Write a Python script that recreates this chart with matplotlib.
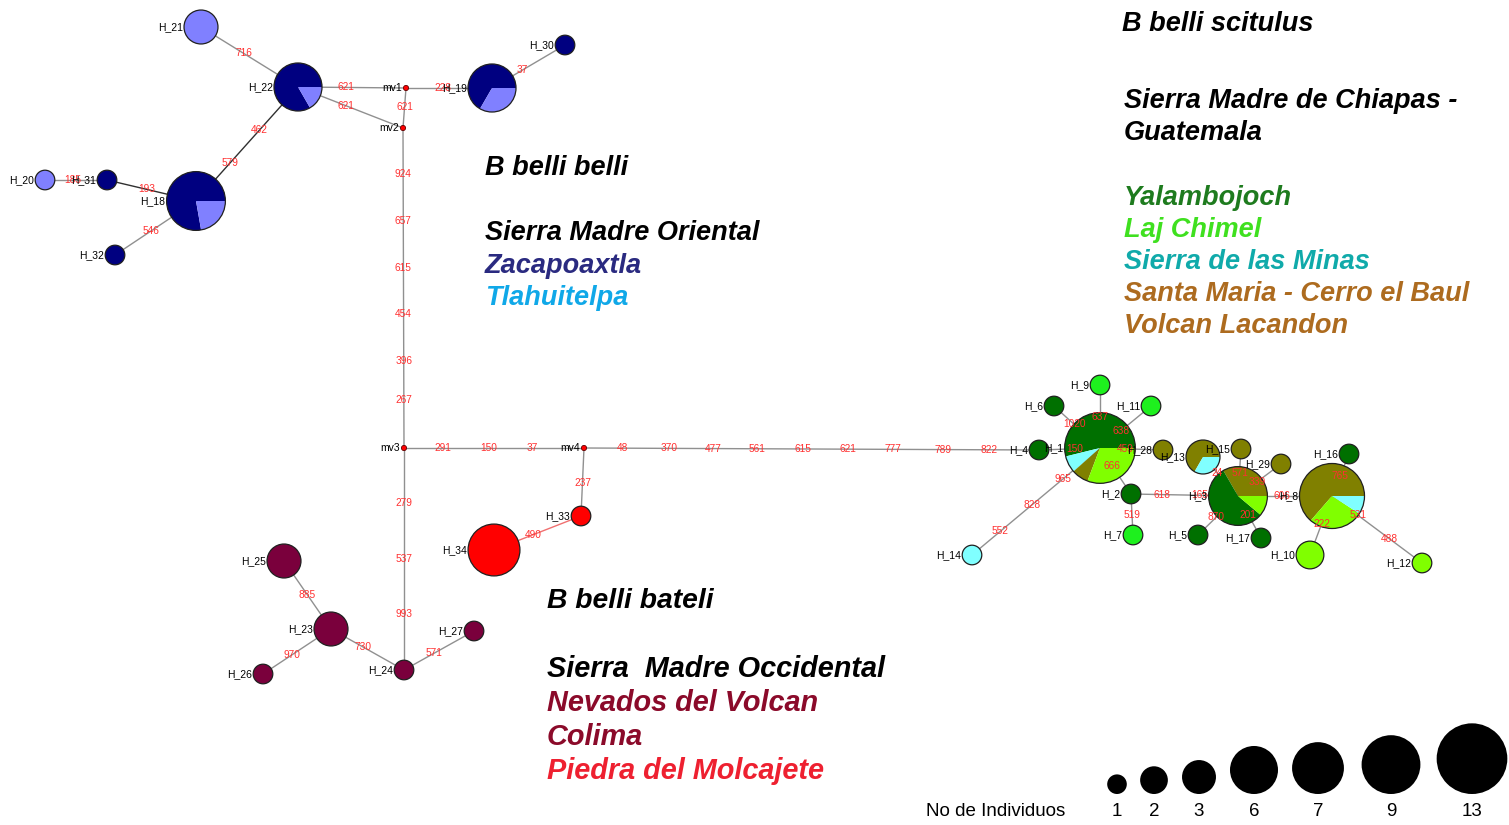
import numpy as np
import matplotlib.pyplot as plt
from matplotlib.patches import Circle, Wedge

# fill colour for every sampled group
group_color = {
    'navy': '#000080', 'lav': '#8080ff',
    'red': '#ff0000', 'maroon': '#7a003c',
    'dkgreen': '#007000', 'green': '#1ef01e', 'lime': '#80ff00',
    'cyan': '#80ffff', 'olive': '#808000',
}

# haplotypes, their groups and number of individuals per group
hap_names = ['H_18', 'H_22', 'H_19', 'H_21', 'H_20', 'H_31', 'H_32', 'H_30',
             'H_33', 'H_34', 'H_23', 'H_24', 'H_25', 'H_26', 'H_27',
             'H_1', 'H_2', 'H_3', 'H_4', 'H_5', 'H_6', 'H_7', 'H_8', 'H_9',
             'H_10', 'H_11', 'H_12', 'H_13', 'H_14', 'H_15', 'H_16', 'H_17',
             'H_28', 'H_29']
hap_groups = [['navy', 'lav'], ['navy', 'lav'], ['navy', 'lav'], ['lav'], ['lav'],
              ['navy'], ['navy'], ['navy'],
              ['red'], ['red'], ['maroon'], ['maroon'], ['maroon'], ['maroon'], ['maroon'],
              ['dkgreen', 'cyan', 'olive', 'lime'], ['dkgreen'], ['olive', 'dkgreen', 'lime'],
              ['dkgreen'], ['dkgreen'], ['dkgreen'], ['green'], ['olive', 'lime', 'cyan'],
              ['green'], ['lime'], ['green'], ['lime'], ['olive', 'cyan'], ['cyan'],
              ['olive'], ['dkgreen'], ['dkgreen'], ['olive'], ['olive']]
hap_counts = [[7, 2], [5, 1], [4, 2], [3], [1], [1], [1], [1],
              [1], [7], [3], [1], [3], [1], [1],
              [7, 1, 1, 4], [1], [3, 5, 1], [1], [1], [1], [1], [7, 3, 1],
              [1], [2], [1], [1], [2, 1], [1], [1], [1], [1], [1], [1]]

# network layout (pixel positions)
hap_x = [196, 298, 492, 201, 45, 107, 115, 565,
         581, 494, 331, 404, 284, 263, 474,
         1100, 1131, 1238, 1039, 1198, 1054, 1133, 1332, 1100,
         1310, 1151, 1422, 1203, 972, 1241, 1349, 1261, 1163, 1281]
hap_y = [201, 87, 88, 27, 180, 180, 255, 45,
         516, 550, 629, 670, 561, 674, 631,
         448, 494, 496, 450, 535, 406, 535, 496, 385,
         555, 406, 563, 457, 555, 449, 454, 538, 450, 464]

mv_names = ['mv1', 'mv2', 'mv3', 'mv4']
mv_x = [406, 403, 404, 584]
mv_y = [88, 128, 448, 448]

# links: endpoints, mutated positions and where each label sits along the link
edge_a = ['H_22', 'H_22', 'mv1', 'mv1', 'mv2', 'H_19', 'H_22', 'H_22', 'H_18', 'H_31', 'H_18',
          'mv3', 'mv4', 'mv4', 'H_33', 'mv3', 'H_24', 'H_23', 'H_23', 'H_24',
          'H_1', 'H_1', 'H_1', 'H_1', 'H_1', 'H_1', 'H_1', 'H_2', 'H_2',
          'H_3', 'H_3', 'H_3', 'H_3', 'H_3', 'H_3', 'H_8', 'H_8', 'H_8']
edge_b = ['mv1', 'mv2', 'mv2', 'H_19', 'mv3', 'H_30', 'H_21', 'H_18', 'H_31', 'H_20', 'H_32',
          'mv4', 'H_4', 'H_33', 'H_34', 'H_24', 'H_23', 'H_25', 'H_26', 'H_27',
          'H_4', 'H_9', 'H_6', 'H_11', 'H_28', 'H_14', 'H_2', 'H_7', 'H_3',
          'H_13', 'H_15', 'H_29', 'H_5', 'H_17', 'H_8', 'H_16', 'H_10', 'H_12']
edge_muts = [['621'], ['621'], ['621'], ['228'], ['924', '657', '615', '454', '396', '267'],
             ['37'], ['716'], ['462', '579'], ['193'], ['185'], ['546'],
             ['291', '150', '37'],
             ['48', '370', '477', '561', '615', '621', '777', '789', '822'],
             ['237'], ['490'], ['279', '537', '993'], ['730'], ['885'], ['970'], ['571'],
             ['150'], ['637'], ['1020'], ['638'], ['459'], ['965', '828', '552'], ['666'],
             ['519'], ['618', '165'],
             ['24'], ['571'], ['339'], ['870'], ['201'], ['606'], ['765'], ['222'], ['531', '488']]
edge_pos = [[0.44], [0.46], [0.48], [0.43], [0.144, 0.291, 0.437, 0.581, 0.728, 0.85],
            [0.42], [0.56], [0.38, 0.67], [0.55], [0.56], [0.56],
            [0.217, 0.472, 0.711],
            [0.084, 0.187, 0.284, 0.38, 0.481, 0.58, 0.679, 0.789, 0.89],
            [0.51], [0.55], [0.248, 0.5, 0.748], [0.56], [0.5], [0.57], [0.43],
            [0.41], [0.5], [0.56], [0.41], [0.4], [0.29, 0.53, 0.78], [0.4],
            [0.5], [0.29, 0.645],
            [0.6], [0.5], [0.45], [0.55], [0.45], [0.47], [0.48], [0.47], [0.29, 0.64]]
edge_dark = [('H_22', 'H_18'), ('H_18', 'H_31')]

legend_counts = [1, 2, 3, 6, 7, 9, 13]
legend_x = [1117, 1154, 1199, 1254, 1318, 1391, 1472]


def radius(n):
    return 9.8 * np.sqrt(n)


pos = {}
for name, x, y in zip(hap_names, hap_x, hap_y):
    pos[name] = (x, y)
for name, x, y in zip(mv_names, mv_x, mv_y):
    pos[name] = (x, y)

fig = plt.figure(figsize=(15.09, 8.25), dpi=100)
ax = fig.add_axes([0, 0, 1, 1])
ax.set_xlim(0, 1509)
ax.set_ylim(825, 0)
ax.set_aspect('equal')
ax.axis('off')

LBL = dict(family='Liberation Sans')

# links and mutation numbers
for a, b, muts, ts in zip(edge_a, edge_b, edge_muts, edge_pos):
    (x0, y0), (x1, y1) = pos[a], pos[b]
    col = '#909090'
    if (a, b) in edge_dark:
        col = '#303030'
    if a == 'H_33':
        col = '#f07070'
    ax.plot([x0, x1], [y0, y1], color=col, lw=1, zorder=1)
    for m, t in zip(muts, ts):
        ax.text(x0 + (x1 - x0) * t, y0 + (y1 - y0) * t, m, color='#ff3030',
                fontsize=7.3, ha='center', va='center', zorder=5, **LBL)

# haplotype pies (y axis is flipped, so screen angles are negated)
for name, groups, counts in zip(hap_names, hap_groups, hap_counts):
    x, y = pos[name]
    total = sum(counts)
    r = radius(total)
    start = 0.0
    for g, c in zip(groups, counts):
        span = 360.0 * c / total
        if len(counts) == 1:
            ax.add_patch(Circle((x, y), r, facecolor=group_color[g], edgecolor='none', zorder=3))
        else:
            ax.add_patch(Wedge((x, y), r, -(start + span), -start,
                               facecolor=group_color[g], edgecolor='none', zorder=3))
        start += span
    ax.add_patch(Circle((x, y), r, facecolor='none', edgecolor='#202020', lw=0.9, zorder=4))
    ax.text(x - r - 1, y, name, fontsize=7.5, ha='right', va='center', zorder=6, **LBL)

# median vectors
for name in mv_names:
    x, y = pos[name]
    ax.add_patch(Circle((x, y), 2.6, facecolor='#ff0000', edgecolor='#600000', lw=0.6, zorder=4))
    ax.text(x - 4, y, name, fontsize=7.5, ha='right', va='center', zorder=6, **LBL)

# group captions
HEAD = dict(family='Liberation Sans', fontweight='bold', fontstyle='italic',
            va='center', ha='left')
captions = [
    (1122, 24, 'B belli scitulus', 'black', 19.5),
    (1124, 101, 'Sierra Madre de Chiapas -', 'black', 19.5),
    (1124, 133, 'Guatemala', 'black', 19.5),
    (1124, 198, 'Yalambojoch', '#1e7b1e', 19.5),
    (1124, 230, 'Laj Chimel', '#3fe01f', 19.5),
    (1124, 262, 'Sierra de las Minas', '#10aaaa', 19.5),
    (1124, 294, 'Santa Maria - Cerro el Baul', '#ad6b1f', 19.5),
    (1124, 326, 'Volcan Lacandon', '#ad6b1f', 19.5),
    (485, 168, 'B belli belli', 'black', 19.5),
    (485, 233, 'Sierra Madre Oriental', 'black', 19.5),
    (485, 266, 'Zacapoaxtla', '#2a2a80', 19.5),
    (485, 298, 'Tlahuitelpa', '#10a8e8', 19.5),
    (547, 601, 'B belli bateli', 'black', 20.3),
    (547, 669, 'Sierra  Madre Occidental', 'black', 20.8),
    (547, 703, 'Nevados del Volcan', '#8b0a2a', 20.8),
    (547, 737, 'Colima', '#8b0a2a', 20.8),
    (547, 771, 'Piedra del Molcajete', '#ee2030', 20.8),
]
for x, y, s, c, fs in captions:
    ax.text(x, y, s, color=c, fontsize=fs, **HEAD)

# size key
for n, x in zip(legend_counts, legend_x):
    r = radius(n)
    ax.add_patch(Circle((x, 794 - r), r, facecolor='black', edgecolor='none', zorder=3))
    ax.text(x, 812, str(n), fontsize=13.5, ha='center', va='center', **LBL)
ax.text(926, 812, 'No de Individuos', fontsize=13.5, ha='left', va='center', **LBL)

fig.savefig('out.png', dpi=100, facecolor='white')
